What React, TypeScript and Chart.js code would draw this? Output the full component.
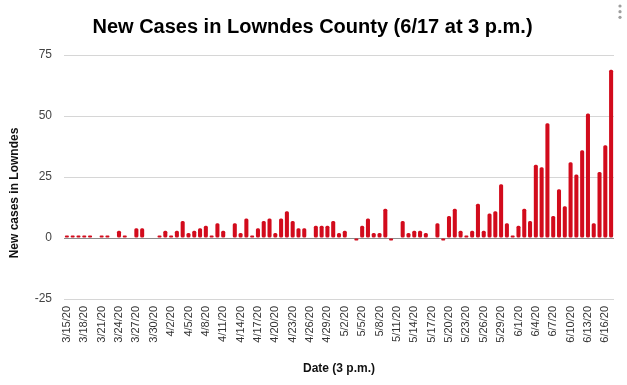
import React, { useEffect, useRef } from "react";
import { Chart, registerables } from "chart.js";

Chart.register(...registerables);

const dates: string[] = [
  "3/15/20", "3/16/20", "3/17/20", "3/18/20", "3/19/20", "3/20/20", "3/21/20", "3/22/20", "3/23/20", "3/24/20",
  "3/25/20", "3/26/20", "3/27/20", "3/28/20", "3/29/20", "3/30/20", "3/31/20",
  "4/1/20", "4/2/20", "4/3/20", "4/4/20", "4/5/20", "4/6/20", "4/7/20", "4/8/20", "4/9/20", "4/10/20",
  "4/11/20", "4/12/20", "4/13/20", "4/14/20", "4/15/20", "4/16/20", "4/17/20", "4/18/20", "4/19/20", "4/20/20",
  "4/21/20", "4/22/20", "4/23/20", "4/24/20", "4/25/20", "4/26/20", "4/27/20", "4/28/20", "4/29/20", "4/30/20",
  "5/1/20", "5/2/20", "5/3/20", "5/4/20", "5/5/20", "5/6/20", "5/7/20", "5/8/20", "5/9/20", "5/10/20",
  "5/11/20", "5/12/20", "5/13/20", "5/14/20", "5/15/20", "5/16/20", "5/17/20", "5/18/20", "5/19/20", "5/20/20",
  "5/21/20", "5/22/20", "5/23/20", "5/24/20", "5/25/20", "5/26/20", "5/27/20", "5/28/20", "5/29/20", "5/30/20", "5/31/20",
  "6/1/20", "6/2/20", "6/3/20", "6/4/20", "6/5/20", "6/6/20", "6/7/20", "6/8/20", "6/9/20", "6/10/20",
  "6/11/20", "6/12/20", "6/13/20", "6/14/20", "6/15/20", "6/16/20", "6/17/20",
];

const newCases: number[] = [
  1, 1, 1, 1, 1, 0, 1, 1, 0, 3,
  1, 0, 4, 4, 0, 0, 1,
  3, 1, 3, 7, 2, 3, 4, 5, 1, 6,
  3, 0, 6, 2, 8, 1, 4, 7, 8, 2,
  8, 11, 7, 4, 4, 0, 5, 5, 5, 7,
  2, 3, 0, -1, 5, 8, 2, 2, 12, -1,
  0, 7, 2, 3, 3, 2, 0, 6, -1, 9,
  12, 3, 1, 3, 14, 3, 10, 11, 22, 6, 1,
  5, 12, 7, 30, 29, 47, 9, 20, 13, 31,
  26, 36, 51, 6, 27, 38, 69,
];

const yTicks: number[] = [-25, 0, 25, 50, 75];

const chartTitle = "New Cases in Lowndes County (6/17 at 3 p.m.)";
const xTitle = "Date (3 p.m.)";
const yTitle = "New cases in Lowndes";

const FONT = "'Liberation Sans', Arial, sans-serif";

export default function App() {
  const ref = useRef<HTMLCanvasElement | null>(null);

  useEffect(() => {
    document.body.style.margin = "0";
    const canvas = ref.current;
    if (!canvas) return;

    const textPlugin = {
      id: "extraText",
      afterDraw(chart: any) {
        const ctx = chart.ctx;
        const area = chart.chartArea;
        ctx.save();
        ctx.fillStyle = "#000";
        ctx.font = `bold 20px ${FONT}`;
        ctx.textAlign = "center";
        ctx.textBaseline = "alphabetic";
        ctx.fillText(chartTitle, 312.5, 33);

        ctx.font = `bold 12px ${FONT}`;
        ctx.fillStyle = "#111";
        ctx.textBaseline = "middle";
        ctx.fillText(xTitle, (area.left + area.right) / 2, 369);

        ctx.save();
        ctx.translate(15, 193);
        ctx.rotate(-Math.PI / 2);
        ctx.fillText(yTitle, 0, 0);
        ctx.restore();

        ctx.fillStyle = "#9e9e9e";
        [6, 11.7, 17.3].forEach((y) => {
          ctx.beginPath();
          ctx.arc(620, y, 1.6, 0, Math.PI * 2);
          ctx.fill();
        });
        ctx.restore();
      },
    };

    const chart = new Chart(canvas, {
      type: "bar",
      data: {
        labels: dates,
        datasets: [
          {
            data: newCases,
            backgroundColor: "#d20b1c",
            borderRadius: 1.5,
            borderSkipped: false,
            barPercentage: 0.7,
            categoryPercentage: 1,
          },
        ],
      },
      options: {
        responsive: false,
        animation: false,
        layout: { padding: { top: 55, right: 13, bottom: 0, left: 0 } },
        plugins: {
          legend: { display: false },
          title: { display: false },
          tooltip: { enabled: false },
        },
        scales: {
          x: {
            offset: true,
            grid: { display: false, drawTicks: false },
            border: { display: false },
            ticks: {
              autoSkip: false,
              minRotation: 90,
              maxRotation: 90,
              padding: 7,
              color: "#333",
              font: { family: FONT, size: 11 },
              callback: function (_v: any, i: number) {
                return i % 3 === 0 ? dates[i] : "";
              },
            },
            afterFit(scale: any) {
              scale.height = 86;
              scale.paddingLeft = 0;
              scale.paddingRight = 0;
            },
          },
          y: {
            min: -25,
            max: 75,
            afterBuildTicks(scale: any) {
              scale.ticks = yTicks.map((v) => ({ value: v }));
            },
            grid: {
              drawTicks: false,
              color: (c: any) => (c.tick && c.tick.value === 0 ? "#8c8c8c" : "#d6d6d6"),
              lineWidth: 1,
            },
            border: { display: false },
            ticks: {
              padding: 12,
              color: "#444",
              font: { family: FONT, size: 12 },
            },
            afterFit(scale: any) {
              scale.width = 64;
            },
          },
        },
      },
      plugins: [textPlugin],
    });

    return () => chart.destroy();
  }, []);

  return (
    <div style={{ width: 627, height: 385, background: "#fff" }}>
      <canvas ref={ref} width={627} height={385} style={{ display: "block" }} />
    </div>
  );
}
